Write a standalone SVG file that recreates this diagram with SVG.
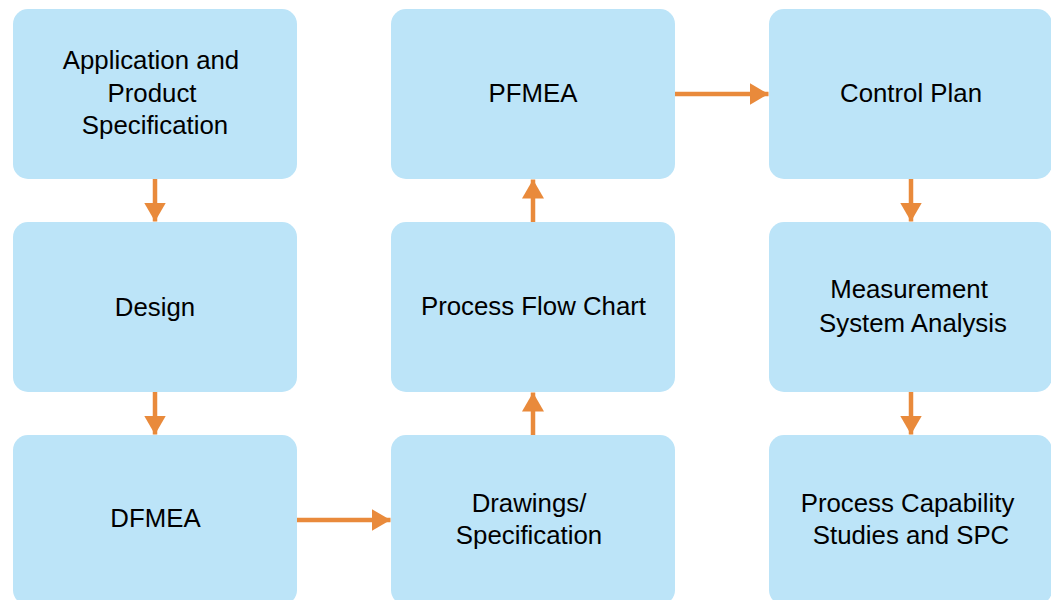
<svg xmlns="http://www.w3.org/2000/svg" width="1051" height="600" viewBox="0 0 1051 600">
<defs>
<style>
.box{fill:#BCE4F8;}
.t{font-family:"Liberation Sans",Arial,sans-serif;font-size:25.8px;fill:#000;text-anchor:middle;}
.c{stroke:#E98A3B;stroke-width:4.5;fill:none;marker-end:url(#ah);}
</style>
<marker id="ah" markerUnits="userSpaceOnUse" markerWidth="19" markerHeight="22" refX="19" refY="11" orient="auto" viewBox="0 0 19 22">
<path d="M0,0 L19,11 L0,22 Z" fill="#E98A3B"/>
</marker>
</defs>
<rect width="1051" height="600" fill="#fff"/>
<g id="connectors">
<line class="c" x1="155" y1="179" x2="155" y2="221.5"/>
<line class="c" x1="155" y1="392" x2="155" y2="434.5"/>
<line class="c" x1="297" y1="520" x2="390.5" y2="520"/>
<line class="c" x1="533" y1="435" x2="533" y2="392.5"/>
<line class="c" x1="533" y1="222" x2="533" y2="179.5"/>
<line class="c" x1="675" y1="94" x2="768.5" y2="94"/>
<line class="c" x1="911" y1="179" x2="911" y2="221.5"/>
<line class="c" x1="911" y1="392" x2="911" y2="434.5"/>
</g>
<g id="n1"><rect class="box" x="13" y="9" width="284" height="170" rx="15"/>
<text class="t" x="151" y="69">Application and</text>
<text class="t" x="152" y="101.5">Product</text>
<text class="t" x="155" y="134">Specification</text></g>
<g id="n2"><rect class="box" x="13" y="222" width="284" height="170" rx="15"/>
<text class="t" x="155" y="315.5">Design</text></g>
<g id="n3"><rect class="box" x="13" y="435" width="284" height="170" rx="15"/>
<text class="t" x="155.5" y="527">DFMEA</text></g>
<g id="n4"><rect class="box" x="391" y="435" width="284" height="170" rx="15"/>
<text class="t" x="529" y="512">Drawings/</text>
<text class="t" x="529" y="544">Specification</text></g>
<g id="n5"><rect class="box" x="391" y="222" width="284" height="170" rx="15"/>
<text class="t" x="533.5" y="314.5">Process Flow Chart</text></g>
<g id="n6"><rect class="box" x="391" y="9" width="284" height="170" rx="15"/>
<text class="t" x="533" y="102">PFMEA</text></g>
<g id="n7"><rect class="box" x="769" y="9" width="283" height="170" rx="15"/>
<text class="t" x="911" y="102">Control Plan</text></g>
<g id="n8"><rect class="box" x="769" y="222" width="283" height="170" rx="15"/>
<text class="t" x="909" y="298">Measurement</text>
<text class="t" x="913" y="331.5">System Analysis</text></g>
<g id="n9"><rect class="box" x="769" y="435" width="283" height="170" rx="15"/>
<text class="t" x="907.5" y="512">Process Capability</text>
<text class="t" x="911" y="543.5">Studies and SPC</text></g>
</svg>
